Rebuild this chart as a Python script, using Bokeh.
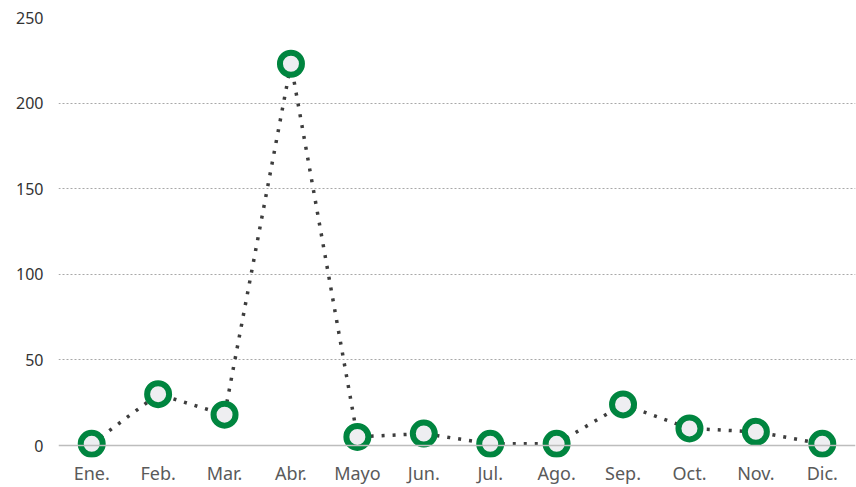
from bokeh.plotting import figure
from bokeh.models import FactorRange, Range1d, FixedTicker, Span, ColumnDataSource
from bokeh.embed import file_html
from bokeh.resources import INLINE

months = ["Ene.", "Feb.", "Mar.", "Abr.", "Mayo", "Jun.", "Jul.", "Ago.", "Sep.", "Oct.", "Nov.", "Dic."]
values = [1, 30, 18, 223, 5, 7, 1, 1, 24, 10, 8, 1]
y_ticks = [0, 50, 100, 150, 200, 250]

src = ColumnDataSource(dict(x=months, y=values))

p = figure(width=856, height=487, x_range=FactorRange(factors=months),
           y_range=Range1d(-7.0, 250), output_backend="svg", toolbar_location=None,
           min_border_left=58, min_border_right=1, min_border_top=17, min_border_bottom=30)
p.outline_line_color = None
p.background_fill_color = "white"

p.line("x", "y", source=src, line_color="#3d3d3d", line_width=3.5, line_dash="3 8")
p.scatter("x", "y", source=src, size=22, line_color="#00853f", line_width=6,
          fill_color="#eeeef1")

p.add_layout(Span(location=0, dimension="width", line_color="#bdbdbd", line_width=1.5), "below")

p.yaxis.ticker = FixedTicker(ticks=y_ticks)
p.ygrid.ticker = FixedTicker(ticks=y_ticks[1:])
p.ygrid.grid_line_color = "#a8a8a8"
p.ygrid.grid_line_dash = "2 2"
p.ygrid.grid_line_width = 1
p.xgrid.grid_line_color = None

p.yaxis.axis_line_color = None
p.yaxis.major_tick_line_color = None
p.yaxis.minor_tick_line_color = None
p.yaxis.major_tick_out = 0
p.yaxis.minor_tick_out = 0
p.yaxis.major_label_standoff = 15
p.yaxis.major_label_text_font = "Noto Sans"
p.yaxis.major_label_text_font_size = "16px"
p.yaxis.major_label_text_color = "#333333"

p.xaxis.axis_line_color = None
p.xaxis.major_tick_line_color = None
p.xaxis.minor_tick_line_color = None
p.xaxis.major_tick_out = 0
p.xaxis.minor_tick_out = 0
p.xaxis.major_label_standoff = 3
p.xaxis.major_label_text_line_height = 1.0
p.xaxis.major_label_text_font = "Noto Sans"
p.xaxis.major_label_text_font_size = "18px"
p.xaxis.major_label_text_color = "#5a5a5a"

open("out.html", "w").write(file_html(p, INLINE))
